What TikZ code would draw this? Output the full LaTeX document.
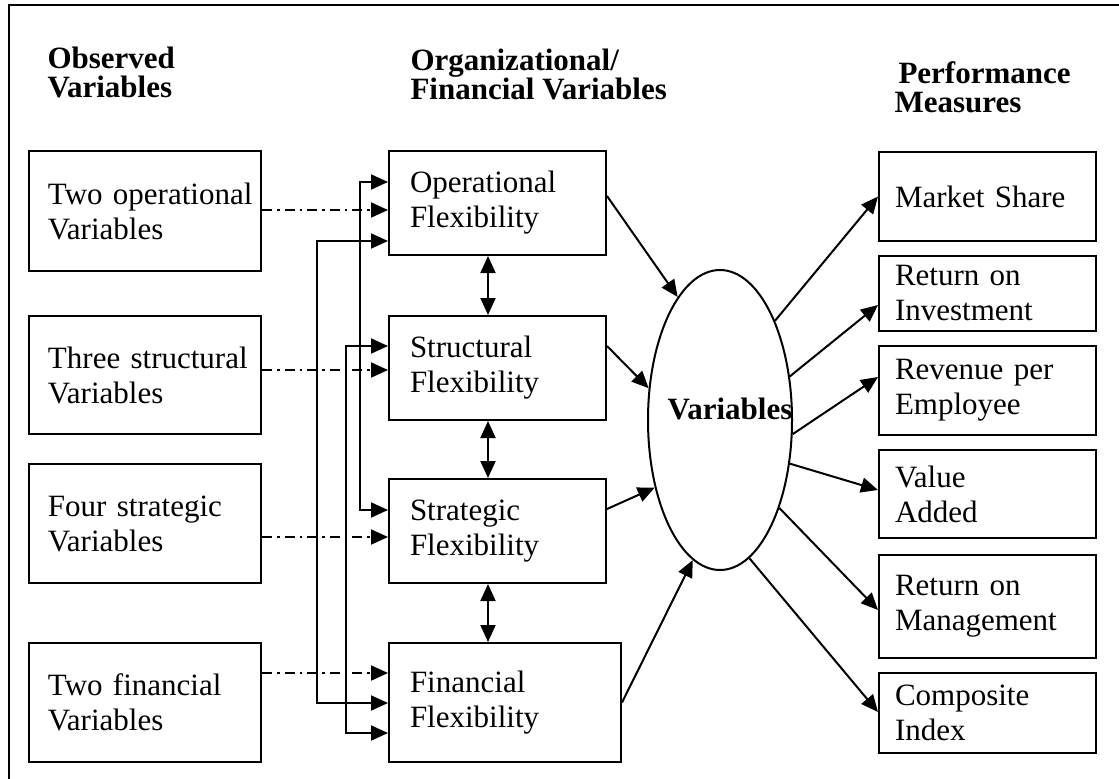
\documentclass[tikz,border=0pt]{standalone}
\usepackage{fontspec}
\setmainfont{Liberation Serif}
\usetikzlibrary{arrows.meta,shapes.geometric}

\tikzset{
  box/.style={draw, line width=0.8pt, rectangle, align=left, font=\fontsize{12.4}{14}\selectfont},
  obsbox/.style={box, text width=89.8pt, inner xsep=1.5pt, execute at begin node={\leftskip=6.1pt}},
  flexbox/.style={box, text width=70pt, inner xsep=8.4pt},
  measbox/.style={box, text width=74pt, inner xsep=6.4pt},
  head/.style={anchor=north west, inner sep=0pt, align=left, font=\fontsize{12.4}{11.6}\selectfont\bfseries},
  link/.style={line width=0.8pt, -{Triangle[length=6.8pt,width=6pt]}},
  corr/.style={line width=0.8pt, {Triangle[length=6.8pt,width=6pt]}-{Triangle[length=6.8pt,width=6pt]}},
  obsline/.style={link, dash pattern=on 4pt off 2pt on 1pt off 2pt},
}

\begin{document}
\begin{tikzpicture}[x=0.4pt, y=-0.4pt]
        \useasboundingbox (0,0) rectangle (1119,779);
        \clip (0,0) rectangle (1119,779);
        % Frame
        \draw[line width=1pt] (9,5) rectangle (1130,790);
        % Headings
        \node[head] (hobs) at (47,46) {Observed\\Variables};
        \node[head] (horg) at (410,48) {Organizational/\\Financial Variables};
        \node[head] (hperf) at (894,61) {\hspace*{1.6pt}Performance\\Measures};
        % Observed variables
        \node[obsbox, minimum height=48pt] (obsop) at (145,211) {Two operational\\Variables};
        \node[obsbox, minimum height=47.2pt] (obsst) at (145,375) {Three structural\\Variables};
        \node[obsbox, minimum height=47.6pt] (obssg) at (145,523.5) {Four strategic\\Variables};
        \node[obsbox, minimum height=47.6pt] (obsfi) at (145,702.5) {Two financial\\Variables};
        % Flexibility
        \node[flexbox, minimum height=41.6pt] (flexop) at (497.5,203) {Operational\\Flexibility};
        \node[flexbox, minimum height=41.6pt] (flexst) at (497.5,368) {Structural\\Flexibility};
        \node[flexbox, minimum height=41.6pt] (flexsg) at (497.5,531) {Strategic\\Flexibility};
        \node[flexbox, text width=76pt, minimum height=47.6pt] (flexfi) at (505,702.5) {Financial\\Flexibility};
        % Latent variables
        \node[draw, ellipse, line width=0.8pt, minimum width=57.6pt, minimum height=120pt, inner sep=0pt,
              label={[font=\fontsize{12.4}{14}\selectfont\bfseries, xshift=4pt, yshift=4.4pt]center:Variables}] (latent) at (720,420) {};
        % Performance measures
        \node[measbox, minimum height=35.6pt] (ms) at (987.5,196.5) {Market Share};
        \node[measbox, minimum height=30pt] (roi) at (987.5,293.5) {Return on\\Investment};
        \node[measbox, minimum height=35.6pt] (rpe) at (987.5,390.5) {Revenue per\\Employee};
        \node[measbox, minimum height=35.2pt] (va) at (987.5,494) {Value\\Added};
        \node[measbox, minimum height=41.2pt] (rom) at (987.5,606.5) {Return on\\Management};
        \node[measbox, minimum height=32pt] (ci) at (987.5,713) {Composite\\Index};
        % Observed -> flexibility
        \draw[obsline] (obsop.east |- 0,210) -- (flexop.west |- 0,210);
        \draw[obsline] (obsst.east |- 0,370) -- (flexst.west |- 0,370);
        \draw[obsline] (obssg.east |- 0,537) -- (flexsg.west |- 0,537);
        \draw[obsline] (obsfi.east |- 0,673) -- (flexfi.west |- 0,673);
        % Correlations
        \draw[corr] (flexop.west |- 0,182) -- ++(-28,0) |- (flexsg.west |- 0,510);
        \draw[corr] (flexop.west |- 0,241) -- ++(-71,0) |- (flexfi.west |- 0,703);
        \draw[corr] (flexst.west |- 0,346) -- ++(-42,0) |- (flexfi.west |- 0,733);
        \coordinate (mid) at (488,0);
        \draw[corr] (flexop.south -| mid) -- (flexst.north -| mid);
        \draw[corr] (flexst.south -| mid) -- (flexsg.north -| mid);
        \draw[corr] (flexsg.south -| mid) -- (flexfi.north -| mid);
        % Flexibility -> latent
        \draw[link] (flexop.east |- 0,196) -- (latent.109);
        \draw[link] (flexst.east |- 0,346) -- (latent.156);
        \draw[link] (flexsg.east |- 0,509) -- (latent.226);
        \draw[link] (flexfi.east) -- (latent.259);
        % Latent -> performance
        \draw[link] (latent.61) -- (ms.west);
        \draw[link] (latent.32) -- (roi.west |- 0,305);
        \draw[link] (latent.349) -- (rpe.west |- 0,377);
        \draw[link] (latent.328) -- (va.west |- 0,490);
        \draw[link] (latent.304) -- (rom.west |- 0,610);
        \draw[link] (latent.282) -- (ci.west |- 0,712);
\end{tikzpicture}
\end{document}
